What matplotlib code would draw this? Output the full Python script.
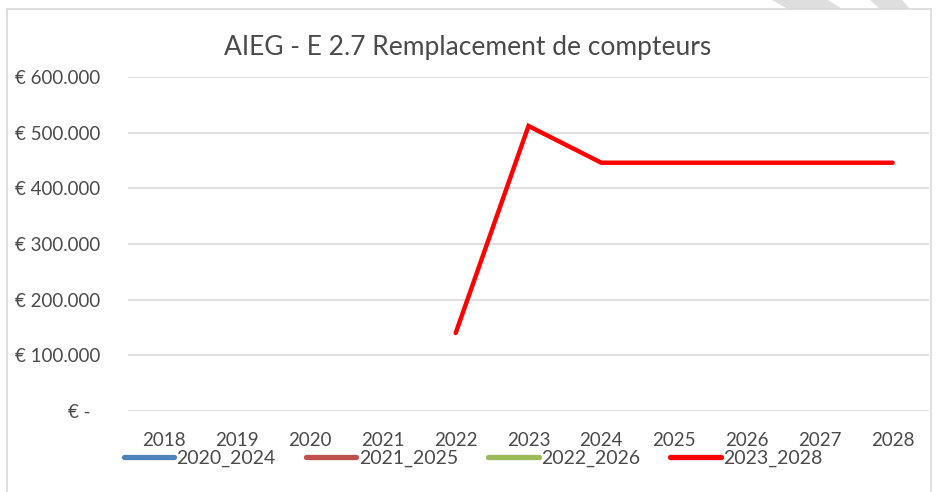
import matplotlib.pyplot as plt
from matplotlib.patches import Rectangle, Polygon
from matplotlib.lines import Line2D
from matplotlib.ticker import FuncFormatter

plt.rcParams['font.family'] = ['Lato', 'DejaVu Sans']

# Data
years = ['2018', '2019', '2020', '2021', '2022', '2023', '2024', '2025', '2026', '2027', '2028']
series_names = ['2020_2024', '2021_2025', '2022_2026', '2023_2028']
series_colors = ['#4F81BD', '#C0504D', '#9BBB59', '#FF0000']
s_2020_2024 = [None] * 11
s_2021_2025 = [None] * 11
s_2022_2026 = [None] * 11
s_2023_2028 = [None, None, None, None, 140000, 512000, 446000, 446000, 446000, 446000, 446000]
yticks = [0, 100000, 200000, 300000, 400000, 500000, 600000]

W, H = 940, 492
TXT = '#4A4A4A'
fig = plt.figure(figsize=(W / 100, H / 100), dpi=100)
ax = fig.add_axes([128 / W, 1 - 411 / H, (929 - 128) / W, (411 - 77) / H])

x = list(range(len(years)))
for name, vals, col in zip(series_names, [s_2020_2024, s_2021_2025, s_2022_2026, s_2023_2028], series_colors):
    xs = [i for i, v in zip(x, vals) if v is not None]
    ys = [v for v in vals if v is not None]
    ax.plot(xs, ys, color=col, linewidth=3.2, solid_joinstyle='miter', solid_capstyle='round', label=name)

ax.set_xlim(-0.5, len(years) - 0.5)
ax.set_ylim(0, 600000)
ax.set_yticks(yticks)
ax.set_xticks(x)
ax.set_xticklabels(years)


def euro(v, pos):
    if v == 0:
        return '€ -  '
    return '€ ' + f'{int(v):,}'.replace(',', '.')


ax.yaxis.set_major_formatter(FuncFormatter(euro))
ax.grid(axis='y', color='#D9D9D9', linewidth=1.2)
ax.set_axisbelow(True)
for sp in ax.spines.values():
    sp.set_visible(False)
ax.tick_params(axis='both', length=0, labelsize=13.5, colors=TXT)
ax.tick_params(axis='y', pad=20)
ax.tick_params(axis='x', pad=15)

fig.text(468 / W, 1 - 47 / H, 'AIEG - E 2.7 Remplacement de compteurs', ha='center', va='center',
         fontsize=19, color=TXT)

handles = [Line2D([], [], color=c, linewidth=3.8, solid_capstyle='round') for c in series_colors]
fig.legend(handles, series_names, loc='center', bbox_to_anchor=(473 / W, 1 - 458 / H), ncol=4,
           frameon=False, fontsize=14, handlelength=2.6, handletextpad=0.12, columnspacing=1.55,
           labelcolor=TXT, borderaxespad=0, borderpad=0)

# chart frame
fig.add_artist(Rectangle((7 / W, -0.05), (931 - 7) / W, (1 - 9 / H) + 0.05, transform=fig.transFigure,
                         fill=False, edgecolor='#D9D9D9', linewidth=1.2))

# faint watermark stripes above the frame
fig.add_artist(Polygon([(772 / W, 1), (828 / W, 1), (842 / W, 1 - 9 / H), (788 / W, 1 - 9 / H)],
                       transform=fig.transFigure, facecolor='#DEDEDE', edgecolor='none', zorder=-1))
fig.add_artist(Polygon([(870 / W, 1), (902 / W, 1), (910 / W, 1 - 9 / H), (880 / W, 1 - 9 / H)],
                       transform=fig.transFigure, facecolor='#DEDEDE', edgecolor='none', zorder=-1))

fig.savefig('out.png', dpi=100)
